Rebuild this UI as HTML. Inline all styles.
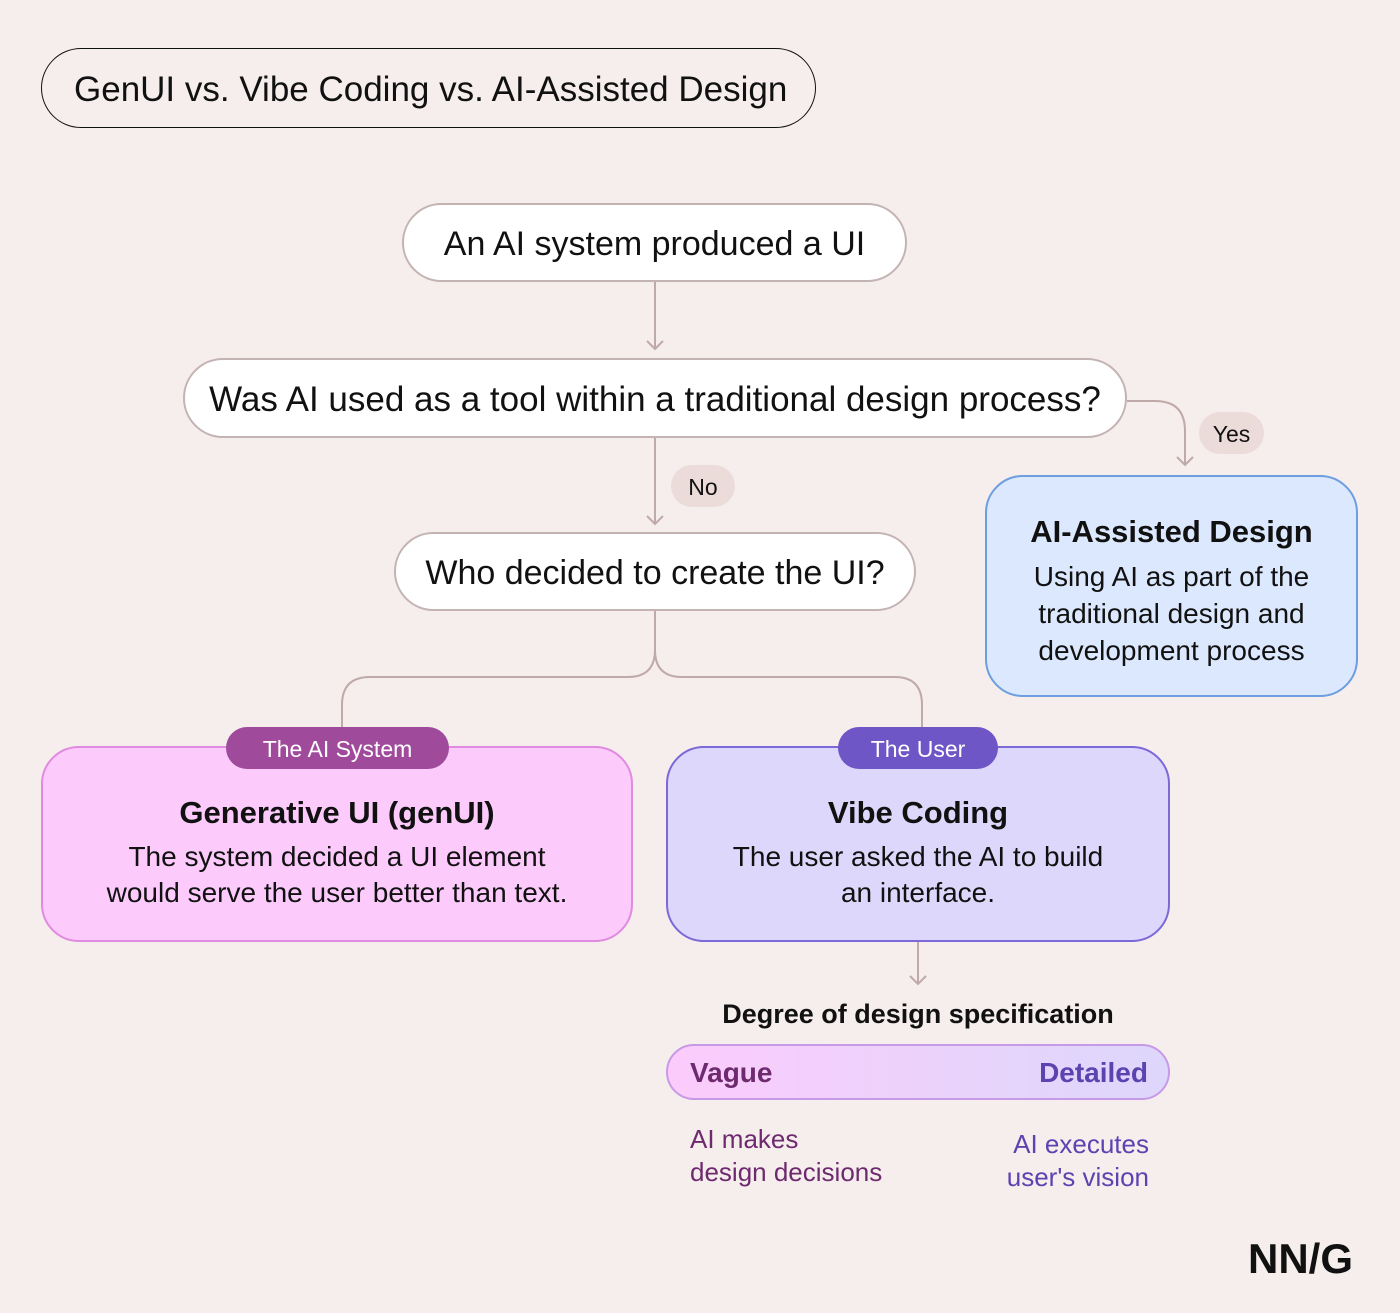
<!DOCTYPE html>
<html><head><meta charset="utf-8"><style>
body{margin:0;width:1400px;height:1313px;background:#f6eded;font-family:"Liberation Sans",sans-serif;position:relative;overflow:hidden;color:#111}
.a{position:absolute;box-sizing:border-box;display:flex;align-items:center;justify-content:center;text-align:center}
.pill{background:#fff;border:2px solid #c3b3b3;border-radius:40px;font-size:34px;padding-top:4px}
.lab{background:#ecdcd9;border-radius:21px;font-size:23px;padding-top:2px}
.box{flex-direction:column;border-radius:38px;border:2px solid}
.box b{font-size:31px;margin-bottom:8px}
.box span{font-size:28px;line-height:36px}
.tag{color:#fff;border-radius:21px;font-size:23px;padding-top:2px}
</style></head><body>
<svg style="position:absolute;left:0;top:0" width="1400" height="1313">
<g fill="none" stroke="#bfa9a9" stroke-width="2">
<path d="M655 282V349M647 341l8 8 8-8"/>
<path d="M655 438V524M647 516l8 8 8-8"/>
<path d="M1127 401H1155Q1185 401 1185 431V465M1177 457l8 8 8-8"/>
<path d="M655 611V650Q655 677 628 677H370Q342 677 342 705V727"/>
<path d="M655 650Q655 677 682 677H895Q922 677 922 705V727"/>
<path d="M918 942V984M910 976l8 8 8-8"/>
</g></svg>
<div class="a" style="left:41px;top:48px;width:775px;height:80px;border:1.5px solid #111;border-radius:40px;font-size:35px;justify-content:flex-start;padding-left:32px;padding-top:3px">GenUI vs. Vibe Coding vs. AI-Assisted Design</div>
<div class="a pill" style="left:402px;top:203px;width:505px;height:79px">An AI system produced a UI</div>
<div class="a pill" style="left:183px;top:358px;width:944px;height:80px;font-size:35px">Was AI used as a tool within a traditional design process?</div>
<div class="a lab" style="left:671px;top:465px;width:64px;height:42px">No</div>
<div class="a lab" style="left:1199px;top:412px;width:65px;height:42px">Yes</div>
<div class="a pill" style="left:394px;top:532px;width:522px;height:79px">Who decided to create the UI?</div>
<div class="a box" style="left:985px;top:475px;width:373px;height:222px;background:#dce8fd;border-color:#6d9ee0;padding-top:10px"><b>AI-Assisted Design</b><span style="line-height:37px">Using AI as part of the<br>traditional design and<br>development process</span></div>
<div class="a box" style="left:41px;top:746px;width:592px;height:196px;background:#fccbfc;border-color:#e08ae0;padding-top:18px"><b>Generative UI (genUI)</b><span>The system decided a UI element<br>would serve the user better than text.</span></div>
<div class="a tag" style="left:226px;top:727px;width:223px;height:42px;background:#a04a9c">The AI System</div>
<div class="a box" style="left:666px;top:746px;width:504px;height:196px;background:#ddd7fb;border-color:#7d68d8;padding-top:18px"><b>Vibe Coding</b><span>The user asked the AI to build<br>an interface.</span></div>
<div class="a tag" style="left:838px;top:727px;width:160px;height:42px;background:#6e56c6">The User</div>
<div class="a" style="left:666px;top:994px;width:504px;height:40px;font-size:27px;font-weight:bold">Degree of design specification</div>
<div class="a" style="left:666px;top:1044px;width:504px;height:56px;border-radius:28px;background:linear-gradient(90deg,#fccbfc,#e8d3fb 60%,#ddd7fb);border:2px solid #c79ae8;justify-content:space-between;padding:2px 20px 0 22px;font-size:28px;font-weight:bold"><span style="color:#6e2a6e">Vague</span><span style="color:#5b43b0">Detailed</span></div>
<div style="position:absolute;left:690px;top:1123px;font-size:26px;line-height:33px;color:#6e2a6e">AI makes<br>design decisions</div>
<div style="position:absolute;right:251px;top:1128px;font-size:26px;line-height:33px;color:#5b43b0;text-align:right">AI executes<br>user's vision</div>
<div style="position:absolute;left:1248px;top:1235px;font-size:42px;font-weight:bold;letter-spacing:0px">NN/G</div>
</body></html>
